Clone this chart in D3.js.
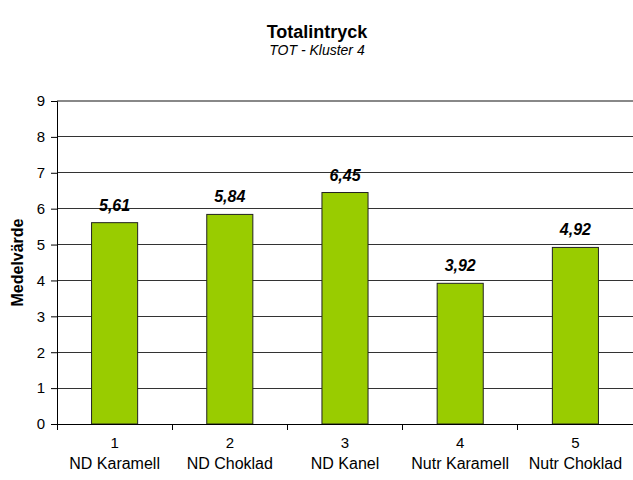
<!DOCTYPE html>
<html><head><meta charset="utf-8">
<script src="https://cdn.jsdelivr.net/npm/d3@7"></script>
<style>body{margin:0;background:#fff}svg{display:block;font-family:"Liberation Sans",Arial,sans-serif}</style>
</head><body>
<script>
const numbers = ["1","2","3","4","5"];
const categories = ["ND Karamell","ND Choklad","ND Kanel","Nutr Karamell","Nutr Choklad"];
const values = [5.61,5.84,6.45,3.92,4.92];
const valueLabels = ["5,61","5,84","6,45","3,92","4,92"];
const yTicks = [0,1,2,3,4,5,6,7,8,9];
const title = "Totalintryck";
const subtitle = "TOT - Kluster 4";
const yTitle = "Medelvärde";

const W=633,H=480;
const m={left:57,right:0,top:101,bottom:56};
const svg=d3.select("body").append("svg").attr("width",W).attr("height",H);
const x=d3.scaleBand().domain(d3.range(values.length)).range([m.left,W-m.right]).paddingInner(0.6).paddingOuter(0.3);
const xb=d3.scaleBand().domain(d3.range(values.length)).range([m.left,W-m.right]);
const y=d3.scaleLinear().domain([0,9]).range([H-m.bottom,m.top]);

svg.append("text").attr("x",317).attr("y",38).attr("text-anchor","middle").attr("font-size",18).attr("font-weight","bold").text(title);
svg.append("text").attr("x",317).attr("y",55).attr("text-anchor","middle").attr("font-size",14).attr("font-style","italic").text(subtitle);

// gridlines
svg.append("g").selectAll("line").data(yTicks.filter(d=>d>0)).join("line")
  .attr("x1",m.left).attr("x2",W-m.right).attr("y1",d=>y(d)).attr("y2",d=>y(d))
  .attr("stroke",d=>d===9?"#888":"#333").attr("stroke-width",d=>d===9?1.5:1).attr("shape-rendering","crispEdges");

// y axis
const ya=svg.append("g").attr("transform",`translate(${m.left},0)`)
  .call(d3.axisLeft(y).tickValues(yTicks).tickSize(6).tickPadding(6).tickFormat(d3.format("d")));
ya.select(".domain").attr("stroke","#000");
ya.selectAll("line").attr("stroke","#000");
ya.selectAll("text").attr("font-size",15).attr("font-family","Liberation Sans, Arial, sans-serif").attr("fill","#000");

// bars
svg.append("g").selectAll("rect").data(values).join("rect")
  .attr("x",(d,i)=>x(i)).attr("width",x.bandwidth())
  .attr("y",d=>y(d)).attr("height",d=>y(0)-y(d))
  .attr("fill","#99CC00").attr("stroke","#222").attr("stroke-width",1);

// value labels
svg.append("g").selectAll("text").data(values).join("text")
  .attr("x",(d,i)=>x(i)+x.bandwidth()/2).attr("y",d=>y(d)-12)
  .attr("text-anchor","middle").attr("font-size",16).attr("font-weight","bold").attr("font-style","italic")
  .text((d,i)=>valueLabels[i]);

// x axis
const xg=svg.append("g");
xg.append("line").attr("x1",m.left).attr("x2",W-m.right).attr("y1",y(0)).attr("y2",y(0)).attr("stroke","#000").attr("shape-rendering","crispEdges");
xg.selectAll("line.t").data(d3.range(values.length+1)).join("line").attr("class","t")
  .attr("x1",i=>m.left+i*xb.step()).attr("x2",i=>m.left+i*xb.step())
  .attr("y1",y(0)).attr("y2",y(0)+6).attr("stroke","#000").attr("shape-rendering","crispEdges");
xg.selectAll("text.n").data(numbers).join("text").attr("class","n")
  .attr("x",(d,i)=>xb(i)+xb.bandwidth()/2).attr("y",y(0)+24).attr("text-anchor","middle").attr("font-size",15).text(d=>d);
xg.selectAll("text.c").data(categories).join("text").attr("class","c")
  .attr("x",(d,i)=>xb(i)+xb.bandwidth()/2).attr("y",y(0)+45).attr("text-anchor","middle").attr("font-size",16).text(d=>d);

svg.append("text").attr("transform",`translate(23,${(y(0)+y(9))/2}) rotate(-90)`).attr("text-anchor","middle")
  .attr("font-size",16).attr("font-weight","bold").text(yTitle);
</script>
</body></html>
